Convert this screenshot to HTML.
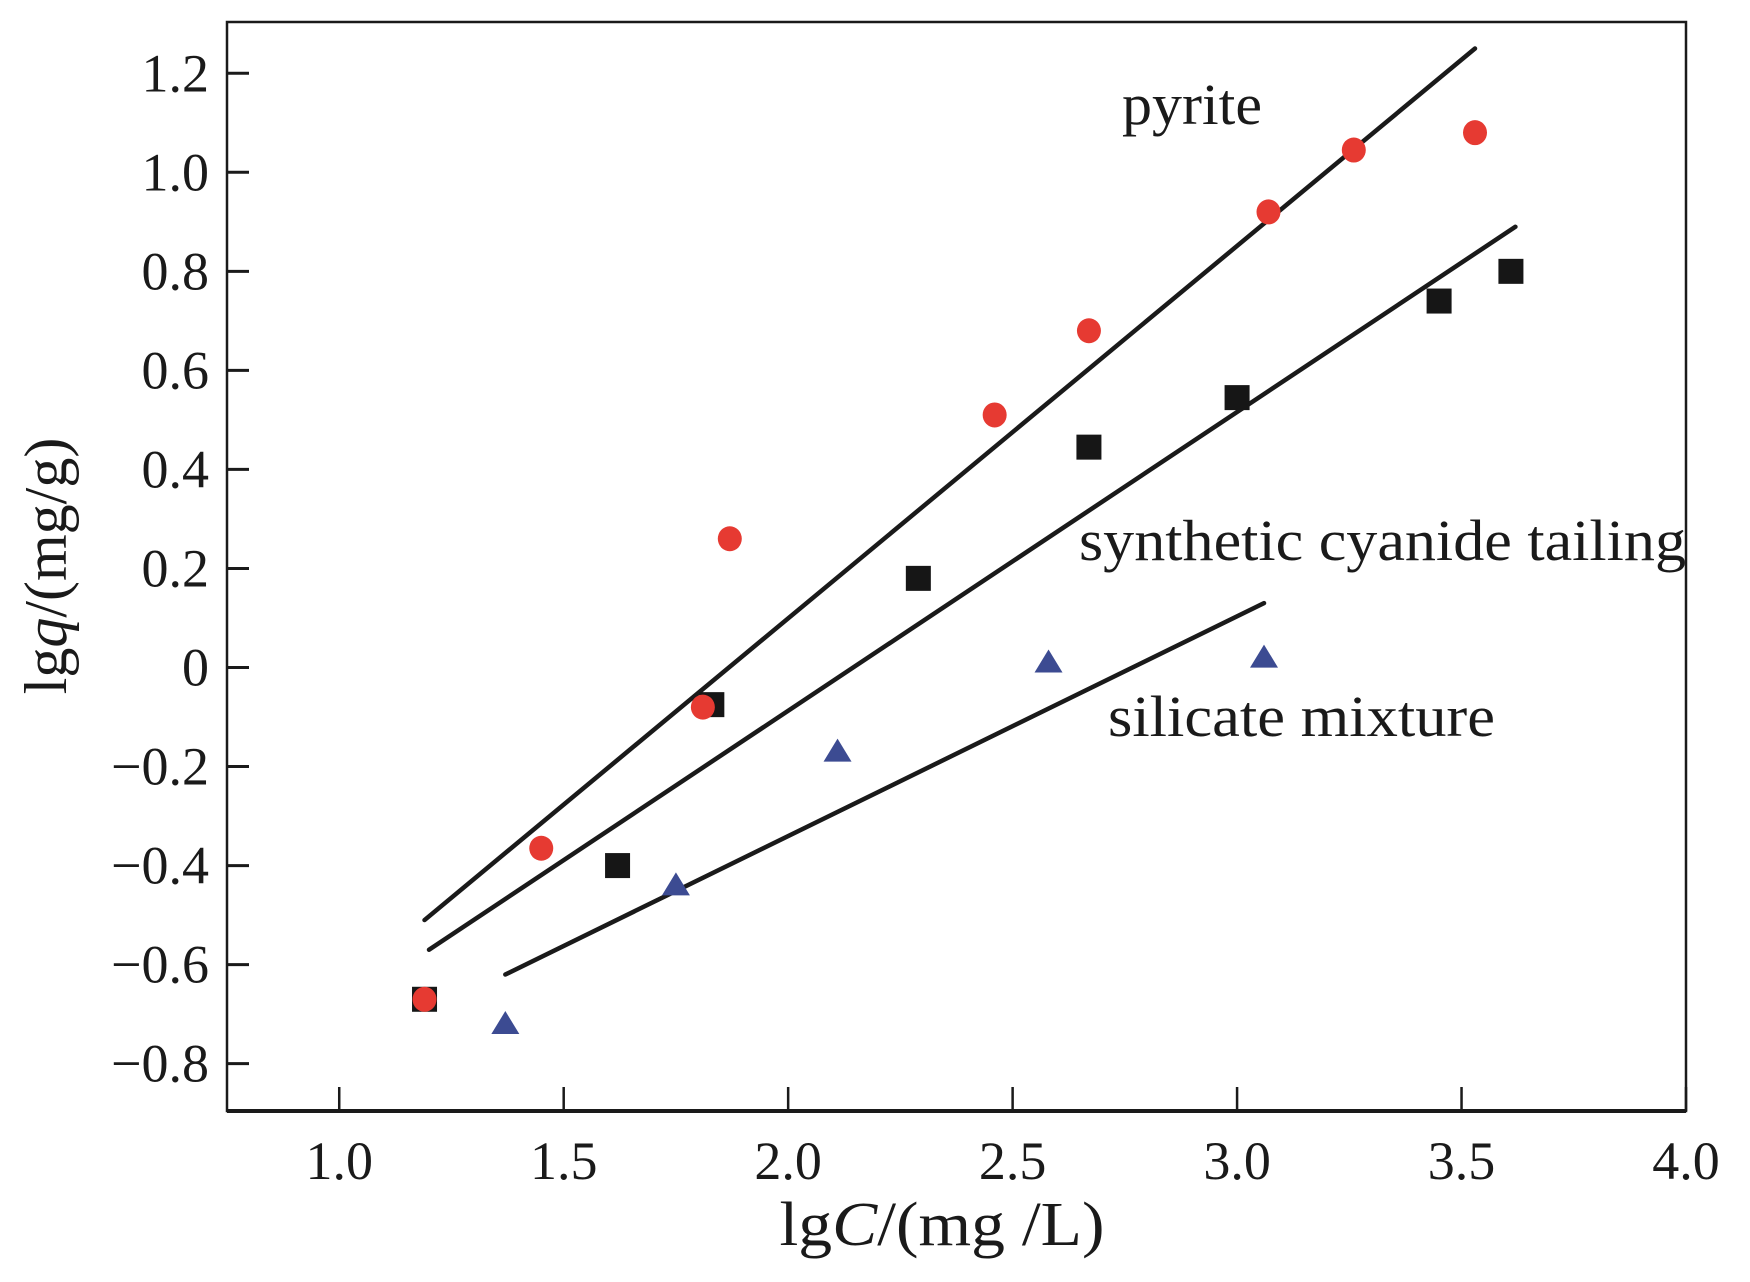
<!DOCTYPE html>
<html><head><meta charset="utf-8"><style>
html,body{margin:0;padding:0;background:#fff;}
svg{display:block;font-family:"Liberation Serif",serif;}
</style></head><body>
<svg id="chart" width="1750" height="1282" viewBox="0 0 1750 1282" xmlns="http://www.w3.org/2000/svg"></svg>
<script>
const xTicks=[1.0,1.5,2.0,2.5,3.0,3.5,4.0];
const xTickLabels=["1.0","1.5","2.0","2.5","3.0","3.5","4.0"];
const yTicks=[1.2,1.0,0.8,0.6,0.4,0.2,0,-0.2,-0.4,-0.6,-0.8];
const yTickLabels=["1.2","1.0","0.8","0.6","0.4","0.2","0","\u22120.2","\u22120.4","\u22120.6","\u22120.8"];
const pyriteX=[1.19,1.45,1.81,1.87,2.46,2.67,3.07,3.26,3.53];
const pyriteY=[-0.67,-0.365,-0.08,0.26,0.51,0.68,0.92,1.045,1.08];
const tailingX=[1.19,1.62,1.83,2.29,2.67,3.0,3.45,3.61];
const tailingY=[-0.67,-0.40,-0.075,0.18,0.445,0.545,0.74,0.80];
const silicateX=[1.37,1.75,2.11,2.58,3.06];
const silicateY=[-0.72,-0.44,-0.17,0.01,0.02];
const pyriteFitX=[1.19,3.53], pyriteFitY=[-0.51,1.25];
const tailingFitX=[1.2,3.62], tailingFitY=[-0.57,0.89];
const silicateFitX=[1.37,3.06], silicateFitY=[-0.62,0.13];

const L=227,R=1686,T=22,B=1111;
const X0=0.75,X1=4.0;
const sx=v=>L+(v-X0)/(X1-X0)*(R-L);
const sy=v=>667.5-v*495.2;
const svg=document.getElementById('chart');
const NS='http://www.w3.org/2000/svg';
function mk(tag,attrs,parent){const e=document.createElementNS(NS,tag);for(const k in attrs)e.setAttribute(k,attrs[k]);(parent||svg).appendChild(e);return e;}

const frame=mk('rect',{x:L,y:T,width:R-L,height:B-T,fill:'none',stroke:'#1a1a1a','stroke-width':2.5});


mk('line',{x1:L,y1:B,x2:R,y2:B,stroke:'#1a1a1a','stroke-width':4});

xTicks.forEach((v,i)=>{
  const t=mk('line',{x1:sx(v),y1:B,x2:sx(v),y2:B-24,stroke:'#1a1a1a','stroke-width':2.5});
  
  
  const tx=mk('text',{x:sx(v),y:B+68,'font-size':54,'text-anchor':'middle',fill:'#1a1a1a'});
  tx.textContent=xTickLabels[i];
  
  
});
yTicks.forEach((v,i)=>{
  const t=mk('line',{x1:L,y1:sy(v),x2:L+22,y2:sy(v),stroke:'#1a1a1a','stroke-width':3});
  
  
  const tx=mk('text',{x:L-18,y:sy(v)+18,'font-size':54,'text-anchor':'end',fill:'#1a1a1a'});
  tx.textContent=yTickLabels[i];
  
  
});

function fit(xs,ys,name){
  const l=mk('line',{x1:sx(xs[0]),y1:sy(ys[0]),x2:sx(xs[1]),y2:sy(ys[1]),stroke:'#1a1a1a','stroke-width':4.5,'stroke-linecap':'round'});
  
  
}
fit(pyriteFitX,pyriteFitY,'pyrite-fit-line');
fit(tailingFitX,tailingFitY,'tailing-fit-line');
fit(silicateFitX,silicateFitY,'silicate-fit-line');

tailingX.forEach((v,i)=>{
  const r=mk('rect',{x:sx(v)-12.5,y:sy(tailingY[i])-12.5,width:25,height:25,fill:'#161616'});
  
  
});
pyriteX.forEach((v,i)=>{
  const c=mk('ellipse',{cx:sx(v),cy:sy(pyriteY[i]),rx:12,ry:12.5,fill:'#e63a32'});
  
  
});
silicateX.forEach((v,i)=>{
  const x=sx(v),y=sy(silicateY[i]);
  const p=mk('polygon',{points:`${x},${y-13} ${x-14},${y+10} ${x+14},${y+10}`,fill:'#3c4b92'});
  
  
});

function label(txt,x,y,len,name){
  const t=mk('text',{x:x,y:y,'font-size':58,fill:'#1a1a1a',textLength:len,lengthAdjust:'spacingAndGlyphs'});
  t.textContent=txt;
  
  
}
label('pyrite',1122,124,140,'pyrite-label');
label('synthetic cyanide tailing',1079,560,607,'tailing-label');
label('silicate mixture',1108,736,387,'silicate-label');

const xt=mk('text',{x:942,y:1245,'font-size':62,'text-anchor':'middle',fill:'#1a1a1a',textLength:325,lengthAdjust:'spacingAndGlyphs'});
xt.innerHTML='lg<tspan font-style="italic">C</tspan>/(mg /L)';


const yt=mk('text',{x:0,y:0,'font-size':60,'text-anchor':'middle',fill:'#1a1a1a',transform:'translate(66,566) rotate(-90)'});
yt.innerHTML='lg<tspan font-style="italic">q</tspan>/(mg/g)';


</script>
</body></html>
